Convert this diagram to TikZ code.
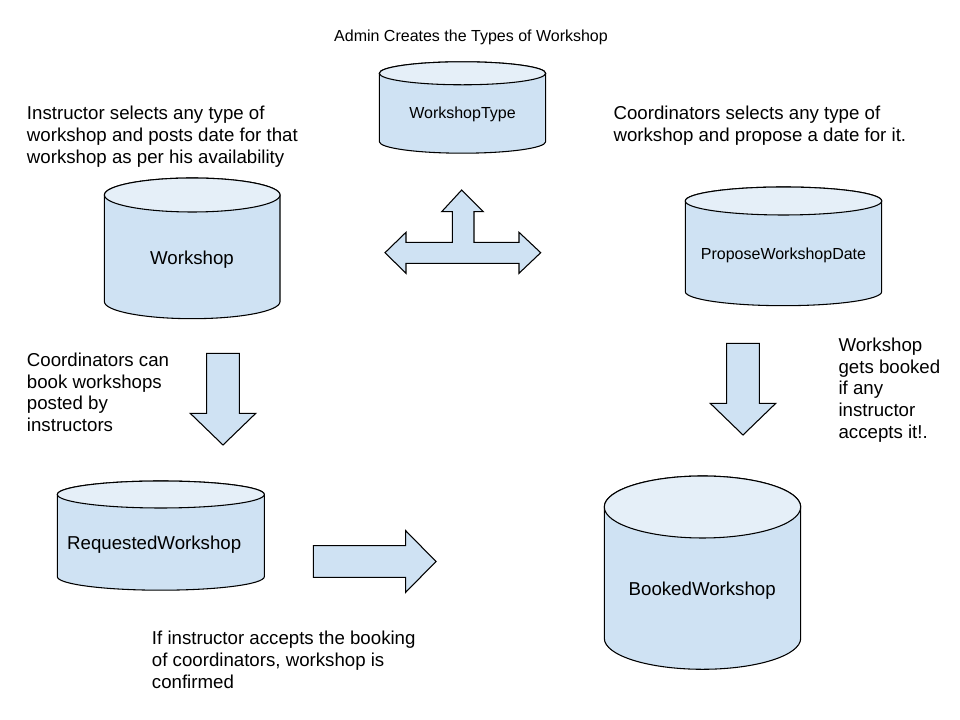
\documentclass[tikz,border=0pt]{standalone}
\usepackage{fontspec}
\setmainfont{Liberation Sans}
\definecolor{cylblue}{HTML}{CFE2F3}
\colorlet{cyltop}{cylblue!55!white}
\begin{document}
\begin{tikzpicture}[x=0.75pt, y=0.75pt,
        body/.style={fill=cylblue, draw=black, line width=0.8pt},
        lid/.style={fill=cyltop, draw=black, line width=0.8pt},
        blk/.style={fill=cylblue, draw=black, line width=0.8pt, line join=miter},
        note/.style={font=\fontsize{14}{16.3}\selectfont, align=left, inner sep=0pt, anchor=north west},
        lbl/.style={font=\fontsize{14}{16.3}\selectfont, inner sep=0pt},
        small/.style={font=\fontsize{12}{14}\selectfont, inner sep=0pt}
      ]
      \useasboundingbox (0,0) rectangle (960,720);
      \foreach \cx/\yt/\yb/\rx/\ry [count=\i] in {462.5/646.7/578.3/83.2/11.5, 192.2/525/418.3/87.8/17,
          783.5/519/428.3/98.2/14, 160.8/225.5/143.3/103.5/13.5, 702.5/213/81.7/98.2/31} {
        \filldraw[body] (\cx-\rx,\yt) -- (\cx-\rx,\yb)
          arc[start angle=180, end angle=360, x radius=\rx, y radius=\ry] -- (\cx+\rx,\yt)
          arc[start angle=0, end angle=180, x radius=\rx, y radius=\ry] -- cycle;
        \filldraw[lid] (\cx,\yt) ellipse[x radius=\rx, y radius=\ry];
      }
      \node[small] (wtype) at (462.5,605.5) {WorkshopType};
      \node[lbl] (wshop) at (192,460) {Workshop};
      \node[small] (pdate) at (783.5,465) {ProposeWorkshopDate};
      \node[lbl] (rshop) at (154.2,175) {RequestedWorkshop};
      \node[lbl] (bshop) at (702.2,129.5) {BookedWorkshop};
      \node[small, anchor=base] (admin) at (471,678) {Admin Creates the Types of Workshop};
      \node[note] (instr) at (26.7,614) {Instructor selects any type of\\workshop and posts date for that\\workshop as per his availability};
      \node[note] (csel) at (613.3,614) {Coordinators selects any type of\\workshop and propose a date for it.};
      \node[note] (cbook) at (26.7,367.5) {Coordinators can\\book workshops\\posted by\\instructors};
      \node[note] (conf) at (151.7,89) {If instructor accepts the booking\\of coordinators, workshop is\\confirmed};
      \node[note] (gets) at (838.3,382.5) {Workshop\\gets booked\\if any\\instructor\\accepts it!.};
      \filldraw[blk] (461.7,530) -- (483.3,508.3) -- (474,508.3) -- (474,477.7) -- (519,477.7) -- (519,487.7)
        -- (540.7,467.3) -- (519,446.7) -- (519,456.7) -- (406,456.7) -- (406,446.7) -- (385,467.3)
        -- (406,487.7) -- (406,477.7) -- (452.3,477.7) -- (452.3,508.3) -- (441.7,508.3) -- cycle;
      \foreach \ax/\ay in {223/366.7, 743/376.7} {
        \filldraw[blk] (\ax-16.3,\ay) -- (\ax-16.3,\ay-60) -- (\ax-32.8,\ay-60) -- (\ax,\ay-91.7)
          -- (\ax+32.8,\ay-60) -- (\ax+16.3,\ay-60) -- (\ax+16.3,\ay) -- cycle;
      }
      \filldraw[blk] (313.3,174.3) -- (405.7,174.3) -- (405.7,189.3) -- (436,158.5) -- (405.7,127.7)
        -- (405.7,142.7) -- (313.3,142.7) -- cycle;
    \end{tikzpicture}
\end{document}
